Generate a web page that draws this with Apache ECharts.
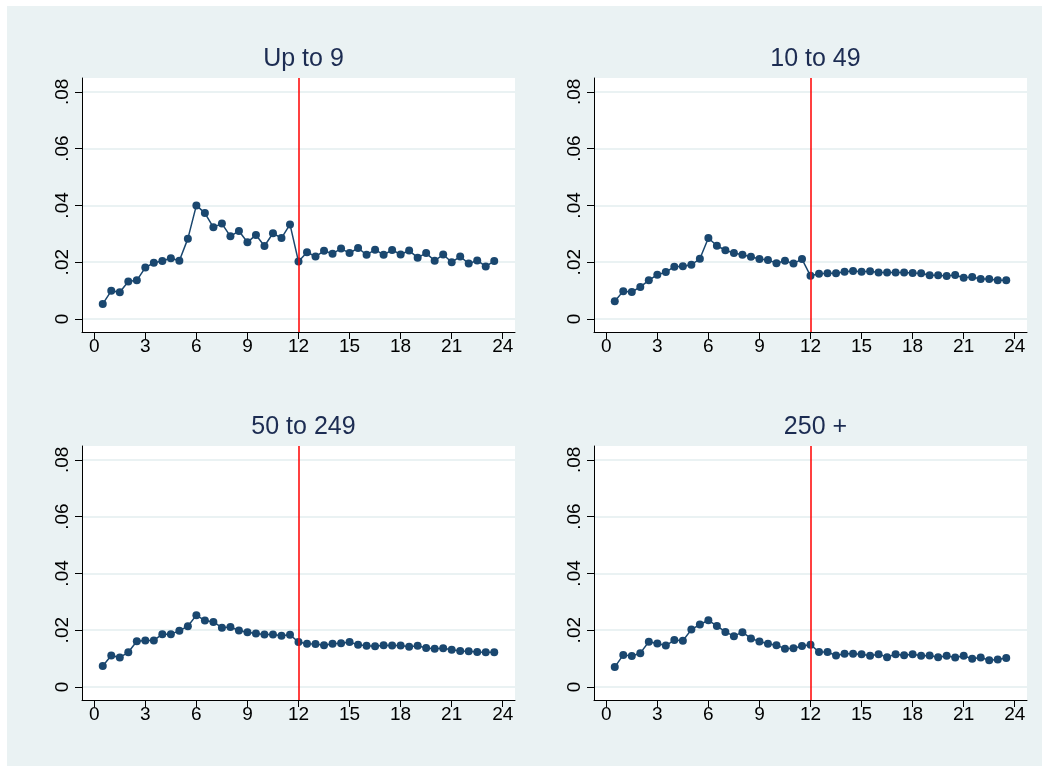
<!DOCTYPE html>
<html>
<head>
<meta charset="utf-8">
<script src="https://cdn.jsdelivr.net/npm/echarts@6/dist/echarts.min.js"></script>
<style>
  html, body { margin: 0; padding: 0; background: #ffffff; }
  #chart { width: 1049px; height: 772px; }
</style>
</head>
<body>
<div id="chart"></div>
<script>
// Months since event (x positions of every point)
const months = [0.5, 1, 1.5, 2, 2.5, 3, 3.5, 4, 4.5, 5, 5.5, 6, 6.5, 7, 7.5, 8, 8.5, 9, 9.5, 10, 10.5, 11, 11.5, 12,
  12.5, 13, 13.5, 14, 14.5, 15, 15.5, 16, 16.5, 17, 17.5, 18, 18.5, 19, 19.5, 20, 20.5, 21, 21.5, 22, 22.5, 23, 23.5];

// Panel titles (firm size classes)
const panelTitles = ['Up to 9', '10 to 49', '50 to 249', '250 +'];

// Rates by firm size class
const upTo9 = [0.0053, 0.0099, 0.0094, 0.0132, 0.0136, 0.0181, 0.0198, 0.0204, 0.0214, 0.0205, 0.0283, 0.0400,
  0.0373, 0.0323, 0.0336, 0.0291, 0.0310, 0.0270, 0.0296, 0.0257, 0.0302, 0.0285, 0.0333, 0.0202,
  0.0235, 0.0220, 0.0240, 0.0230, 0.0248, 0.0232, 0.0250, 0.0226, 0.0244, 0.0226, 0.0243, 0.0227,
  0.0241, 0.0216, 0.0232, 0.0205, 0.0227, 0.0200, 0.0220, 0.0195, 0.0206, 0.0185, 0.0204];
const from10to49 = [0.0062, 0.0098, 0.0095, 0.0113, 0.0136, 0.0156, 0.0165, 0.0184, 0.0186, 0.0191, 0.0212, 0.0285,
  0.0258, 0.0242, 0.0232, 0.0226, 0.0219, 0.0211, 0.0208, 0.0196, 0.0205, 0.0195, 0.0211, 0.0152,
  0.0159, 0.0161, 0.0161, 0.0166, 0.0169, 0.0166, 0.0168, 0.0164, 0.0164, 0.0164, 0.0164, 0.0162,
  0.0161, 0.0154, 0.0154, 0.0151, 0.0155, 0.0145, 0.0148, 0.0141, 0.0141, 0.0136, 0.0136];
const from50to249 = [0.0074, 0.0111, 0.0104, 0.0122, 0.0161, 0.0164, 0.0164, 0.0186, 0.0186, 0.0198, 0.0214, 0.0253,
  0.0234, 0.0229, 0.0209, 0.0211, 0.0199, 0.0193, 0.0188, 0.0185, 0.0185, 0.0180, 0.0184, 0.0158,
  0.0152, 0.0151, 0.0147, 0.0152, 0.0154, 0.0158, 0.0149, 0.0145, 0.0143, 0.0147, 0.0146, 0.0146,
  0.0142, 0.0145, 0.0137, 0.0135, 0.0136, 0.0131, 0.0127, 0.0126, 0.0123, 0.0122, 0.0122];
const from250 = [0.0070, 0.0113, 0.0109, 0.0119, 0.0159, 0.0153, 0.0146, 0.0165, 0.0163, 0.0202, 0.0220, 0.0235,
  0.0215, 0.0194, 0.0179, 0.0193, 0.0171, 0.0160, 0.0152, 0.0147, 0.0135, 0.0136, 0.0144, 0.0149,
  0.0123, 0.0123, 0.0111, 0.0117, 0.0117, 0.0115, 0.0110, 0.0115, 0.0105, 0.0115, 0.0112, 0.0115,
  0.0110, 0.0111, 0.0105, 0.0110, 0.0104, 0.0110, 0.0099, 0.0104, 0.0094, 0.0097, 0.0102];

const panelSeries = [upTo9, from10to49, from50to249, from250];

// Tick values and labels
const xTicks = [0, 3, 6, 9, 12, 15, 18, 21, 24];
const yTicks = [0, 0.02, 0.04, 0.06, 0.08];
const yTickLabels = ['0', '.02', '.04', '.06', '.08'];
const cutoffMonth = 12;

const FONT = '"Liberation Sans", Arial, Helvetica, sans-serif';
const NAVY = '#1a476f';
const BG = '#eaf2f3';

const gridBoxes = [
  { left: 82, top: 78 }, { left: 594, top: 78 },
  { left: 82, top: 446 }, { left: 594, top: 446 }
];
const GW = 433, GH = 254;

const grids = [], xAxes = [], yAxes = [], series = [], titles = [];

gridBoxes.forEach((g, i) => {
  grids.push({
    left: g.left, top: g.top, width: GW, height: GH,
    show: true, backgroundColor: '#ffffff', borderWidth: 0
  });
  titles.push({
    text: panelTitles[i],
    left: g.left + GW / 2, top: g.top - 36,
    textAlign: 'center',
    textStyle: { fontFamily: FONT, fontSize: 25, fontWeight: 'normal', color: '#1c2c52' }
  });
  xAxes.push({
    type: 'value', gridIndex: i, min: -0.72, max: 24.72,
    axisLine: { show: true, onZero: false, lineStyle: { color: '#000', width: 1 } },
    axisTick: { show: true, length: 7, customValues: xTicks, lineStyle: { color: '#000', width: 1 } },
    axisLabel: { customValues: xTicks, fontFamily: FONT, fontSize: 19, color: '#000', margin: 5 },
    splitLine: { show: false }
  });
  yAxes.push({
    type: 'value', gridIndex: i, min: -0.0046, max: 0.0849,
    axisLine: { show: true, onZero: false, lineStyle: { color: '#000', width: 1 } },
    axisTick: { show: true, length: 7, customValues: yTicks, lineStyle: { color: '#000', width: 1 } },
    axisLabel: {
      customValues: yTicks, rotate: 90, margin: 10,
      fontFamily: FONT, fontSize: 19, color: '#000',
      formatter: v => {
        const k = yTicks.findIndex(t => Math.abs(t - v) < 1e-9);
        return k >= 0 ? yTickLabels[k] : '';
      }
    },
    splitLine: { show: true, lineStyle: { color: BG, width: 2 } }
  });
  series.push({
    type: 'line', xAxisIndex: i, yAxisIndex: i,
    data: months.map((m, k) => [m, panelSeries[i][k]]),
    symbol: 'circle', symbolSize: 8,
    lineStyle: { color: NAVY, width: 1.5 },
    itemStyle: { color: NAVY },
    animation: false, z: 3,
    markLine: {
      silent: true, symbol: 'none', animation: false,
      label: { show: false },
      lineStyle: { color: '#ff0000', width: 1.5, type: 'solid' },
      data: [{ xAxis: cutoffMonth }]
    }
  });
});

const chart = echarts.init(document.getElementById('chart'), null, { renderer: 'canvas' });
chart.setOption({
  backgroundColor: '#ffffff',
  animation: false,
  graphic: [{
    type: 'rect', z: -10, silent: true,
    shape: { x: 7, y: 6, width: 1035, height: 760 },
    style: { fill: BG }
  }],
  title: titles,
  grid: grids,
  xAxis: xAxes,
  yAxis: yAxes,
  series: series
});
</script>
</body>
</html>
